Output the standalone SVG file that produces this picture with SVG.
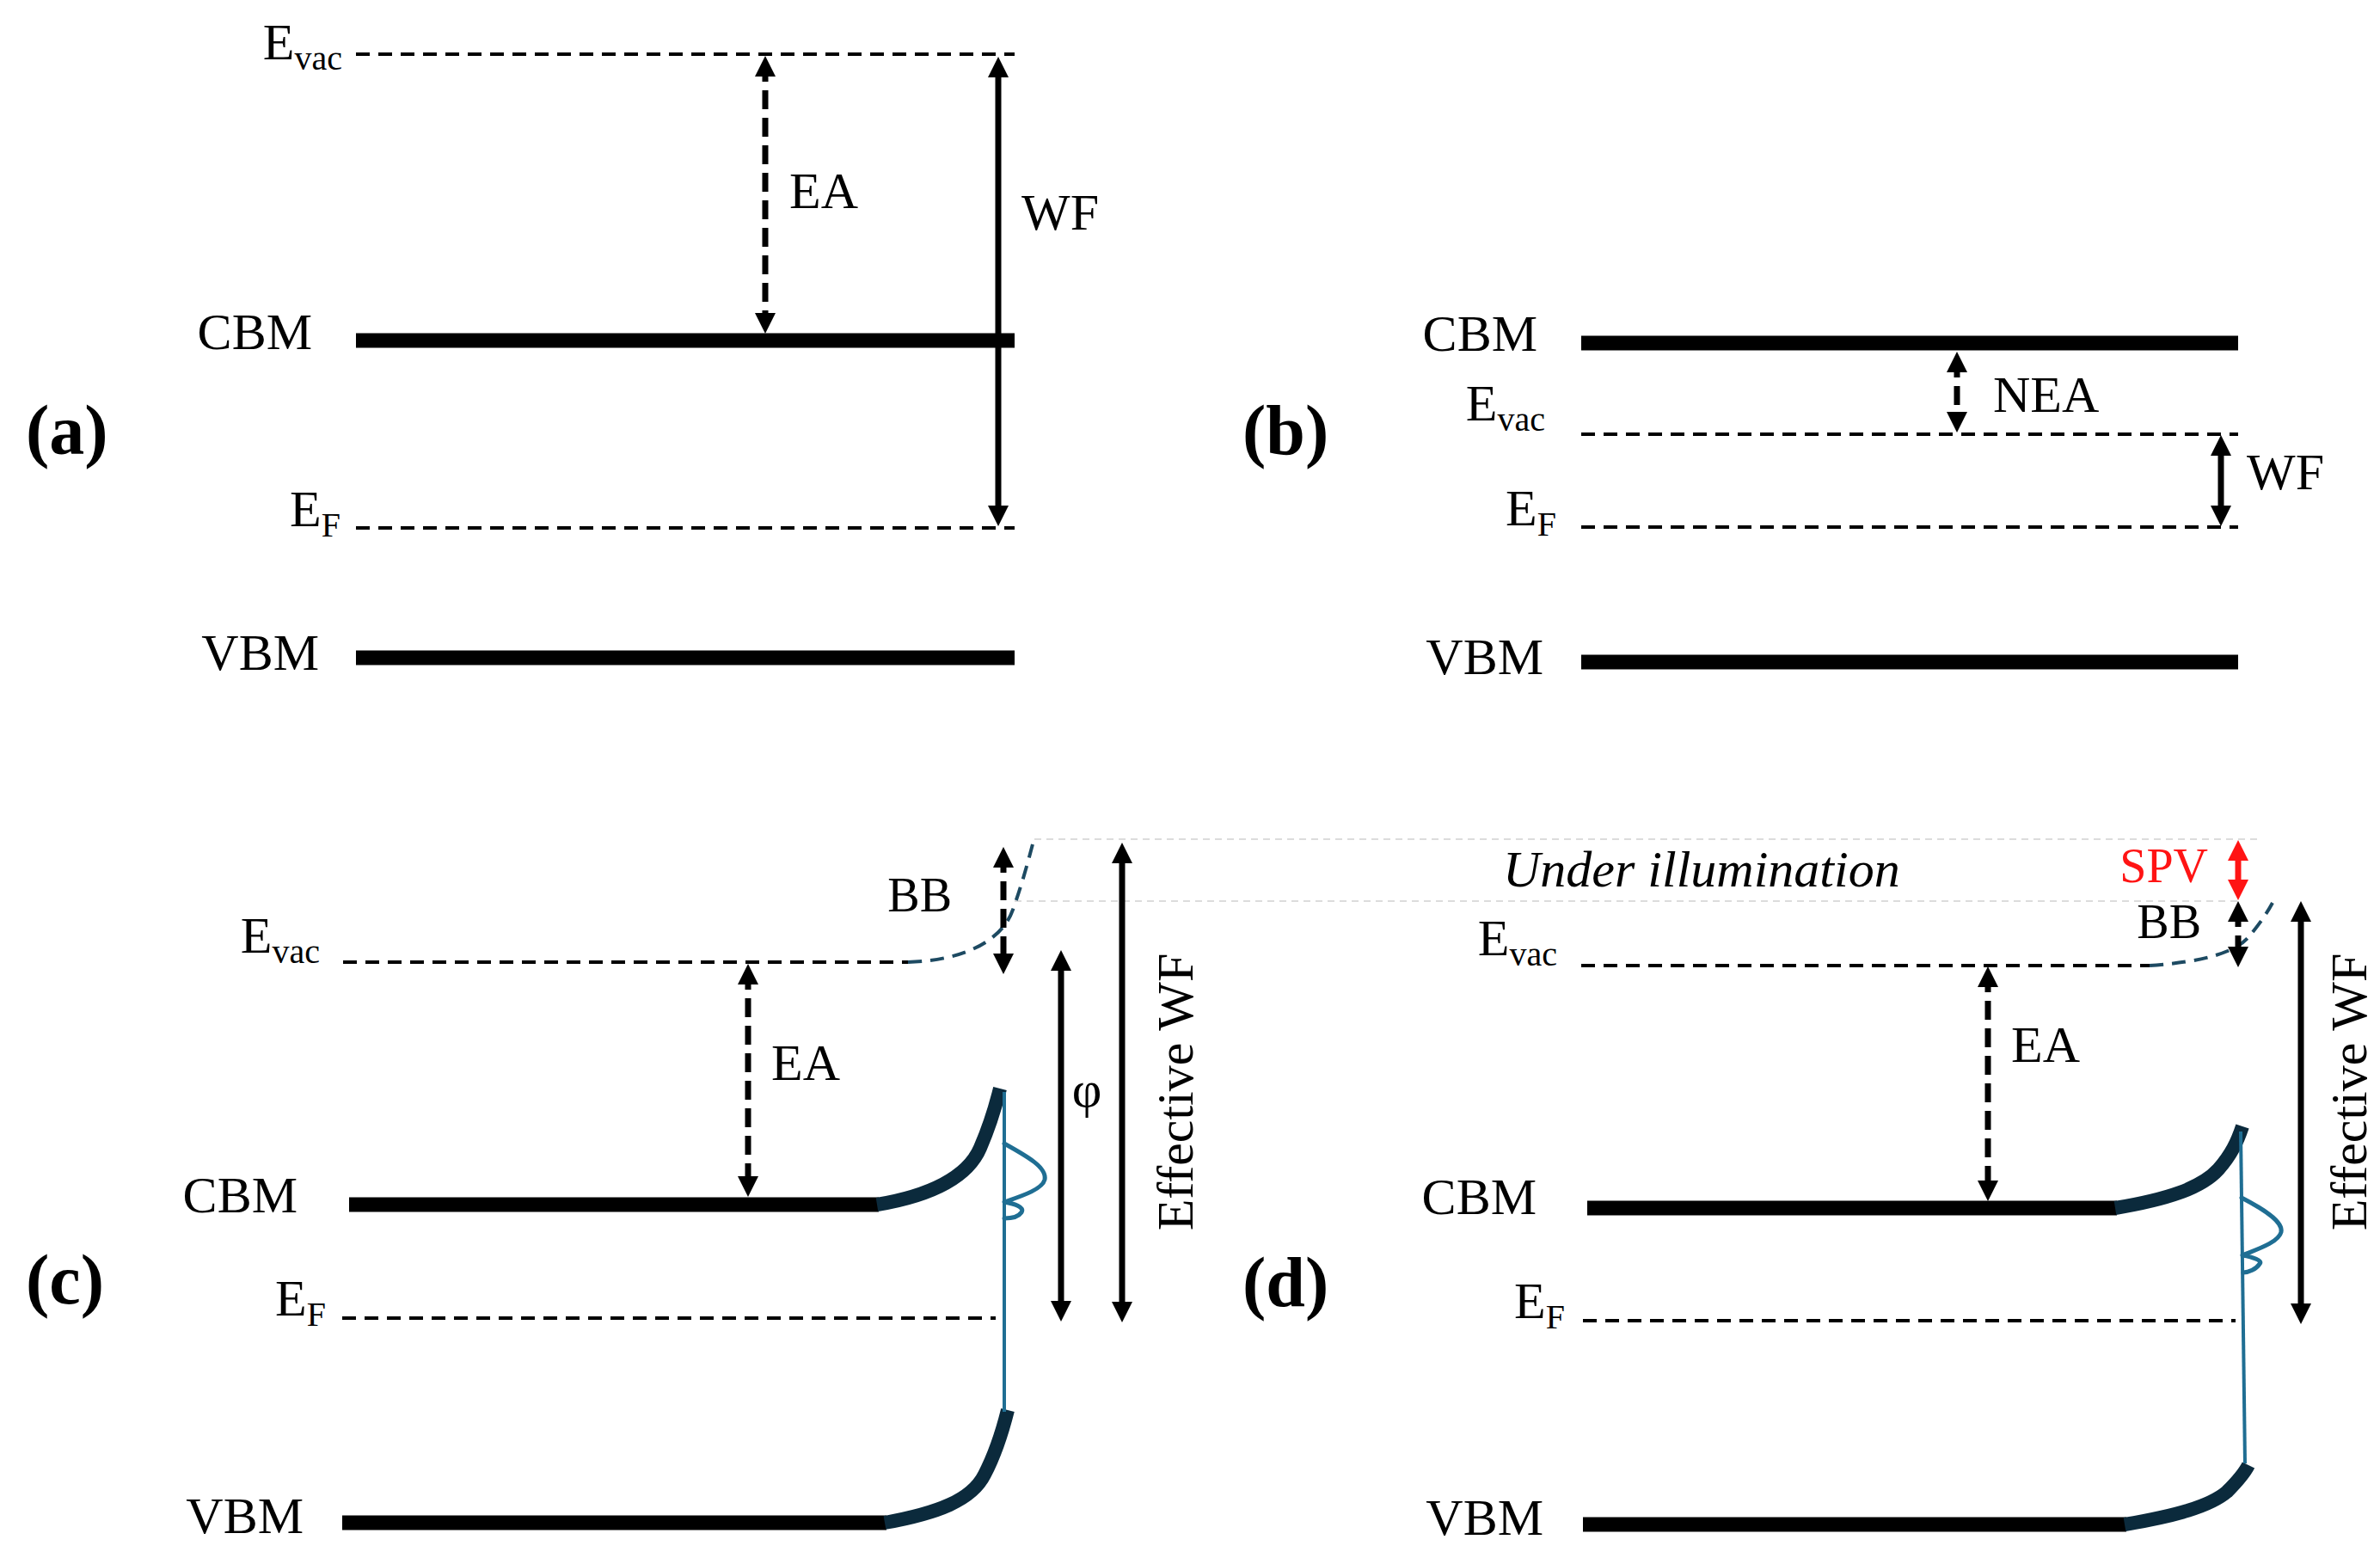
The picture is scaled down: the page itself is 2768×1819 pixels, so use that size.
<svg xmlns="http://www.w3.org/2000/svg" width="2768" height="1819" viewBox="0 0 2768 1819">
<defs>
<style>
.t{font-family:"Liberation Serif","Times New Roman",serif;font-size:60px;fill:#000}
.sm{font-size:56px}
.sub{font-size:40px}
.pl{font-family:"Liberation Serif","Times New Roman",serif;font-size:82px;font-weight:bold;fill:#000}
.it{font-style:italic}
.red{fill:#ff1414}
.band{stroke:#000;stroke-width:17;fill:none}
.bend{stroke:#0b2a3c;stroke-width:16;fill:none}
.lvl{stroke:#000;stroke-width:4;stroke-dasharray:16 10;fill:none}
.lvlb{stroke:#1d4a62;stroke-width:4;stroke-dasharray:16 10;fill:none}
.arr{stroke:#000;stroke-width:7;fill:none;marker-start:url(#ah);marker-end:url(#ah)}
.darr{stroke:#000;stroke-width:7;stroke-dasharray:22 10;fill:none;marker-start:url(#ah);marker-end:url(#ah)}
.rarr{stroke:#ff1414;stroke-width:7;fill:none;marker-start:url(#ahr);marker-end:url(#ahr)}
.blue{stroke:#1f6e93;stroke-width:4;fill:none}
.wig{stroke:#1f6e93;stroke-width:5;fill:none;stroke-linejoin:round;stroke-linecap:round}
.faint{stroke:#dcdcdc;stroke-width:2;stroke-dasharray:8 6;fill:none}
</style>
<marker id="ah" markerUnits="userSpaceOnUse" markerWidth="24" markerHeight="24" viewBox="0 0 24 24" refX="16" refY="12" orient="auto-start-reverse"><path d="M0,0 L24,12 L0,24 z" fill="#000"/></marker>
<marker id="ahr" markerUnits="userSpaceOnUse" markerWidth="24" markerHeight="24" viewBox="0 0 24 24" refX="16" refY="12" orient="auto-start-reverse"><path d="M0,0 L24,12 L0,24 z" fill="#ff1414"/></marker>
</defs>
<rect width="2768" height="1819" fill="#fff"/>

<!-- Panel (a) -->
<g id="panel-a">
  <text class="pl" x="30" y="528">(a)</text>
  <g id="a-evac"><line class="lvl" x1="414" y1="63" x2="1180" y2="63"/><text class="t" x="398" y="69" text-anchor="end">E<tspan class="sub" dy="12">vac</tspan></text></g>
  <g id="a-cbm"><line class="band" x1="414" y1="396" x2="1180" y2="396"/><text class="t" x="363" y="406" text-anchor="end">CBM</text></g>
  <g id="a-ef"><line class="lvl" x1="414" y1="614" x2="1180" y2="614"/><text class="t" x="396" y="612" text-anchor="end">E<tspan class="sub" dy="12">F</tspan></text></g>
  <g id="a-vbm"><line class="band" x1="414" y1="765" x2="1180" y2="765"/><text class="t" x="371" y="779" text-anchor="end">VBM</text></g>
  <text class="t" x="918" y="242">EA</text>
  <text class="t" x="1188" y="267">WF</text>
</g>

<!-- Panel (b) -->
<g id="panel-b">
  <text class="pl" x="1445" y="528">(b)</text>
  <g id="b-cbm"><line class="band" x1="1839" y1="399" x2="2603" y2="399"/><text class="t" x="1788" y="408" text-anchor="end">CBM</text></g>
  <g id="b-evac"><line class="lvl" x1="1839" y1="505" x2="2603" y2="505"/><text class="t" x="1797" y="489" text-anchor="end">E<tspan class="sub" dy="12">vac</tspan></text></g>
  <g id="b-ef"><line class="lvl" x1="1839" y1="613" x2="2603" y2="613"/><text class="t" x="1810" y="611" text-anchor="end">E<tspan class="sub" dy="12">F</tspan></text></g>
  <g id="b-vbm"><line class="band" x1="1839" y1="770" x2="2603" y2="770"/><text class="t" x="1795" y="784" text-anchor="end">VBM</text></g>
  <text class="t" x="2318" y="479">NEA</text>
  <text class="t" x="2613" y="569">WF</text>
</g>

<!-- Illumination reference lines -->
<g id="illum">
  <line class="faint" x1="1203" y1="976" x2="2630" y2="976"/>
  <line class="faint" x1="1180" y1="1048" x2="2605" y2="1048"/>
  <text class="t it" x="1748" y="1031">Under illumination</text>
</g>

<!-- Panel (c) -->
<g id="panel-c">
  <text class="pl" x="30" y="1516">(c)</text>
  <g id="c-evac">
    <line class="lvl" x1="399" y1="1119" x2="1056" y2="1119"/>
    <path class="lvlb" d="M1056,1119 C1120,1117 1165,1095 1178,1058 C1188,1030 1195,1005 1202,978"/>
    <text class="t" x="372" y="1108" text-anchor="end">E<tspan class="sub" dy="12">vac</tspan></text>
  </g>
  <g id="c-cbm">
    <line class="band" x1="406" y1="1401" x2="1022" y2="1401"/>
    <path class="bend" d="M1020,1401 C1080,1391 1125,1370 1140,1335 C1150,1312 1157,1290 1163,1266"/>
    <text class="t" x="346" y="1410" text-anchor="end">CBM</text>
  </g>
  <g id="c-ef"><line class="lvl" x1="398" y1="1533" x2="1158" y2="1533"/><text class="t" x="379" y="1530" text-anchor="end">E<tspan class="sub" dy="12">F</tspan></text></g>
  <g id="c-vbm">
    <line class="band" x1="398" y1="1771" x2="1031" y2="1771"/>
    <path class="bend" d="M1029,1771 C1090,1760 1130,1745 1145,1715 C1157,1692 1165,1668 1172,1640"/>
    <text class="t" x="353" y="1783" text-anchor="end">VBM</text>
  </g>
  <g id="c-states">
    <line class="blue" x1="1168" y1="1270" x2="1168" y2="1642"/>
    <path class="wig" d="M1168,1330 C1195,1345 1218,1358 1215,1372 C1212,1384 1185,1392 1168,1398 C1180,1400 1192,1404 1188,1410 C1184,1416 1175,1417 1168,1417"/>
  </g>
  <text class="t" x="897" y="1256">EA</text>
  <text class="t sm" x="1107" y="1060" text-anchor="end">BB</text>
  <text class="t" x="1264" y="1287" text-anchor="middle">φ</text>
  <text class="t" transform="translate(1387,1270) rotate(-90)" text-anchor="middle">Effective WF</text>
</g>

<!-- Panel (d) -->
<g id="panel-d">
  <text class="pl" x="1445" y="1519">(d)</text>
  <g id="d-evac">
    <line class="lvl" x1="1839" y1="1123" x2="2500" y2="1123"/>
    <path class="lvlb" d="M2500,1123 C2560,1119 2600,1108 2615,1090 C2625,1078 2635,1065 2643,1050"/>
    <text class="t" x="1811" y="1111" text-anchor="end">E<tspan class="sub" dy="12">vac</tspan></text>
  </g>
  <g id="d-cbm">
    <line class="band" x1="1846" y1="1405" x2="2462" y2="1405"/>
    <path class="bend" d="M2460,1405 C2520,1395 2560,1382 2580,1360 C2595,1343 2602,1328 2608,1310"/>
    <text class="t" x="1787" y="1412" text-anchor="end">CBM</text>
  </g>
  <g id="d-ef"><line class="lvl" x1="1841" y1="1536" x2="2600" y2="1536"/><text class="t" x="1820" y="1533" text-anchor="end">E<tspan class="sub" dy="12">F</tspan></text></g>
  <g id="d-vbm">
    <line class="band" x1="1841" y1="1773" x2="2473" y2="1773"/>
    <path class="bend" d="M2471,1773 C2530,1763 2570,1752 2590,1735 C2603,1722 2610,1714 2615,1704"/>
    <text class="t" x="1795" y="1785" text-anchor="end">VBM</text>
  </g>
  <g id="d-states">
    <line class="blue" x1="2606" y1="1316" x2="2611" y2="1702"/>
    <path class="wig" d="M2607,1393 C2630,1405 2656,1420 2653,1433 C2650,1445 2625,1453 2608,1460 C2620,1462 2632,1466 2628,1470 C2624,1476 2615,1480 2609,1480"/>
  </g>
  <text class="t" x="2339" y="1235">EA</text>
  <text class="t sm red" x="2568" y="1026" text-anchor="end">SPV</text>
  <text class="t sm" x="2560" y="1091" text-anchor="end">BB</text>
  <text class="t" transform="translate(2752,1270) rotate(-90)" text-anchor="middle">Effective WF</text>
</g>

<!-- Connectors (arrows) -->
<g id="connectors">
  <line class="darr" x1="890" y1="73" x2="890" y2="380"/>
  <line class="arr" x1="1161" y1="74" x2="1161" y2="604"/>
  <line class="darr" x1="2276" y1="417" x2="2276" y2="495"/>
  <line class="arr" x1="2583" y1="514" x2="2583" y2="604"/>
  <line class="darr" x1="870" y1="1129" x2="870" y2="1384"/>
  <line class="darr" x1="1167" y1="993" x2="1167" y2="1125"/>
  <line class="arr" x1="1234" y1="1113" x2="1234" y2="1529"/>
  <line class="arr" x1="1305" y1="988" x2="1305" y2="1530"/>
  <line class="darr" x1="2312" y1="1132" x2="2312" y2="1389"/>
  <line class="rarr" x1="2603" y1="985" x2="2603" y2="1039"/>
  <line class="darr" x1="2603" y1="1056" x2="2603" y2="1117"/>
  <line class="arr" x1="2676" y1="1056" x2="2676" y2="1532"/>
</g>
</svg>
